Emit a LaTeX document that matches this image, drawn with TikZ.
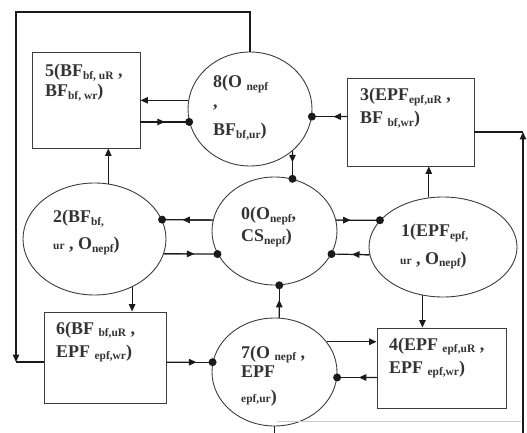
\documentclass[tikz,border=0pt]{standalone}
\usepackage{fontspec}
\setmainfont{Liberation Serif}
\usetikzlibrary{arrows.meta,calc,shapes.geometric}
\definecolor{ink}{HTML}{1A1A1A}
\definecolor{edge}{HTML}{3C3C3C}
\definecolor{txt}{HTML}{333333}
\newcommand\sbs[1]{\raisebox{-2.5bp}{\fontsize{11.5}{12}\selectfont #1}}
\newcommand\smt[1]{{\fontsize{11.5}{12}\selectfont #1}}
\newcommand\flowdot[3]{%
  \draw[ln] (#1) -- (#2);
  \draw[ln,tip] (#1) -- ($(#1)!#3!(#2)$);
  \fill[ink] (#2) circle (4bp);}
\begin{document}
\begin{tikzpicture}[x=1bp,y=-1bp,
  ln/.style={draw=ink,line width=1.2bp},
  tip/.style={-{Triangle[length=7.5bp,width=6.5bp]}},
  boxshape/.style={draw=edge,line width=0.9bp,rectangle,inner sep=0pt},
  ellshape/.style={draw=edge,line width=0.9bp,ellipse,inner sep=0pt},
  lbl/.style={anchor=base west,inner sep=0pt,text=txt,font=\fontsize{18}{20}\selectfont\bfseries}]
\useasboundingbox (0,0) rectangle (527,433);
% shapes
\node[boxshape,minimum width=108bp,minimum height=96bp] (b5) at (86,100) {};
\node[ellshape,minimum width=124bp,minimum height=114bp] (c8) at (250,109) {};
\node[boxshape,minimum width=127bp,minimum height=88bp] (b3) at (410.5,122) {};
\node[ellshape,minimum width=125bp,minimum height=108bp] (c0) at (274.5,231) {};
\node[ellshape,minimum width=143bp,minimum height=112bp] (c2) at (94.5,239) {};
\node[ellshape,minimum width=148bp,minimum height=100bp] (c1) at (443,247) {};
\node[boxshape,minimum width=122bp,minimum height=91bp] (b6) at (105,357.5) {};
\node[ellshape,minimum width=125bp,minimum height=108bp] (c7) at (274.5,372) {};
\node[boxshape,minimum width=129bp,minimum height=80bp] (b4) at (441.5,368) {};
% labels
\node[lbl] (t5a) at (45,77) {5(BF\sbs{bf, uR} ,};
\node[lbl] (t5b) at (45,97) {BF\sbs{bf, wr})};
\node[lbl] (t8a) at (213,88) {8(O \sbs{nepf}};
\node[lbl] (t8b) at (213,108) {,};
\node[lbl] (t8c) at (213,136) {BF\sbs{bf,ur})};
\node[lbl] (t3a) at (360,101) {3(EPF\sbs{epf,uR} ,};
\node[lbl] (t3b) at (360,124) {BF \sbs{bf,wr})};
\node[lbl] (t0a) at (241,220) {0(O\sbs{nepf},};
\node[lbl] (t0b) at (241,242) {CS\sbs{nepf})};
\node[lbl] (t2a) at (53,223) {2(BF\sbs{bf,}};
\node[lbl] (t2b) at (53,250) {\smt{ur} , O\sbs{nepf})};
\node[lbl] (t1a) at (401,237) {1(EPF\sbs{epf,}};
\node[lbl] (t1b) at (400,264) {\smt{ur} , O\sbs{nepf})};
\node[lbl] (t6a) at (56,334) {6(BF \sbs{bf,uR} ,};
\node[lbl] (t6b) at (56,357) {EPF \sbs{epf,wr})};
\node[lbl] (t7a) at (241,358) {7(O \sbs{nepf} ,};
\node[lbl] (t7b) at (241,377) {EPF};
\node[lbl] (t7c) at (241,402) {\smt{epf,ur})};
\node[lbl] (t4a) at (389,350) {4(EPF \sbs{epf,uR} ,};
\node[lbl] (t4b) at (389,373) {EPF \sbs{epf,wr})};
% connectors
\draw[ln,tip] (c8.172) -- (c8.172 -| b5.east);
\coordinate (pB) at (b5.east |- c8.192);
\flowdot{pB}{c8.192}{0.5}
\coordinate (pC) at (b3.west |- c8.353);
\flowdot{pC}{c8.353}{0.38}
\coordinate (pD) at (c0.71 |- c8.315);
\flowdot{pD}{c0.71}{0.4}
\draw[ln,tip] (c1.106) -- (c1.106 |- b3.south);
\flowdot{c0.10}{c1.157}{0.33}
\flowdot{c1.186}{c0.338}{0.46}
\flowdot{c0.170}{c2.16}{0.6}
\flowdot{c2.348}{c0.202}{0.57}
\draw[ln,tip] (c2.76) -- (c2.76 |- b5.south);
\draw[ln,tip] (c2.308) -- (c2.308 |- b6.north);
\coordinate (pL) at (b6.east |- c7.171);
\flowdot{pL}{c7.171}{0.65}
\coordinate (pM) at (c0.275 |- c7.85);
\flowdot{pM}{c0.275}{0.55}
\draw[ln,tip] (c7.30) -- (c7.30 -| b4.west);
\coordinate (pO) at (b4.west |- c7.355);
\flowdot{pO}{c7.355}{0.45}
\draw[ln,tip] (c1.247) -- (c1.247 |- b4.north);
% outer loops
\coordinate (tl) at (16,12);
\coordinate (bl) at (16,362);
\draw[ln,tip] (c8.north) |- (tl) -- (bl);
\draw[ln] (b6.west |- bl) -- (bl);
\coordinate (btm) at (275,433);
\draw[ln] (c7.south) -- (c7.south |- btm);
\coordinate (rb) at (523,433);
\coordinate (rt) at (523,132);
\draw[ln,tip] (rb) -- (rt);
\draw[ln] (b3.east |- rt) -- (rt);
\coordinate (fa) at (277,421);
\coordinate (fb) at (521,421);
\draw[black!20,line width=0.6bp] (fa) -- (fb);
\end{tikzpicture}
\end{document}
